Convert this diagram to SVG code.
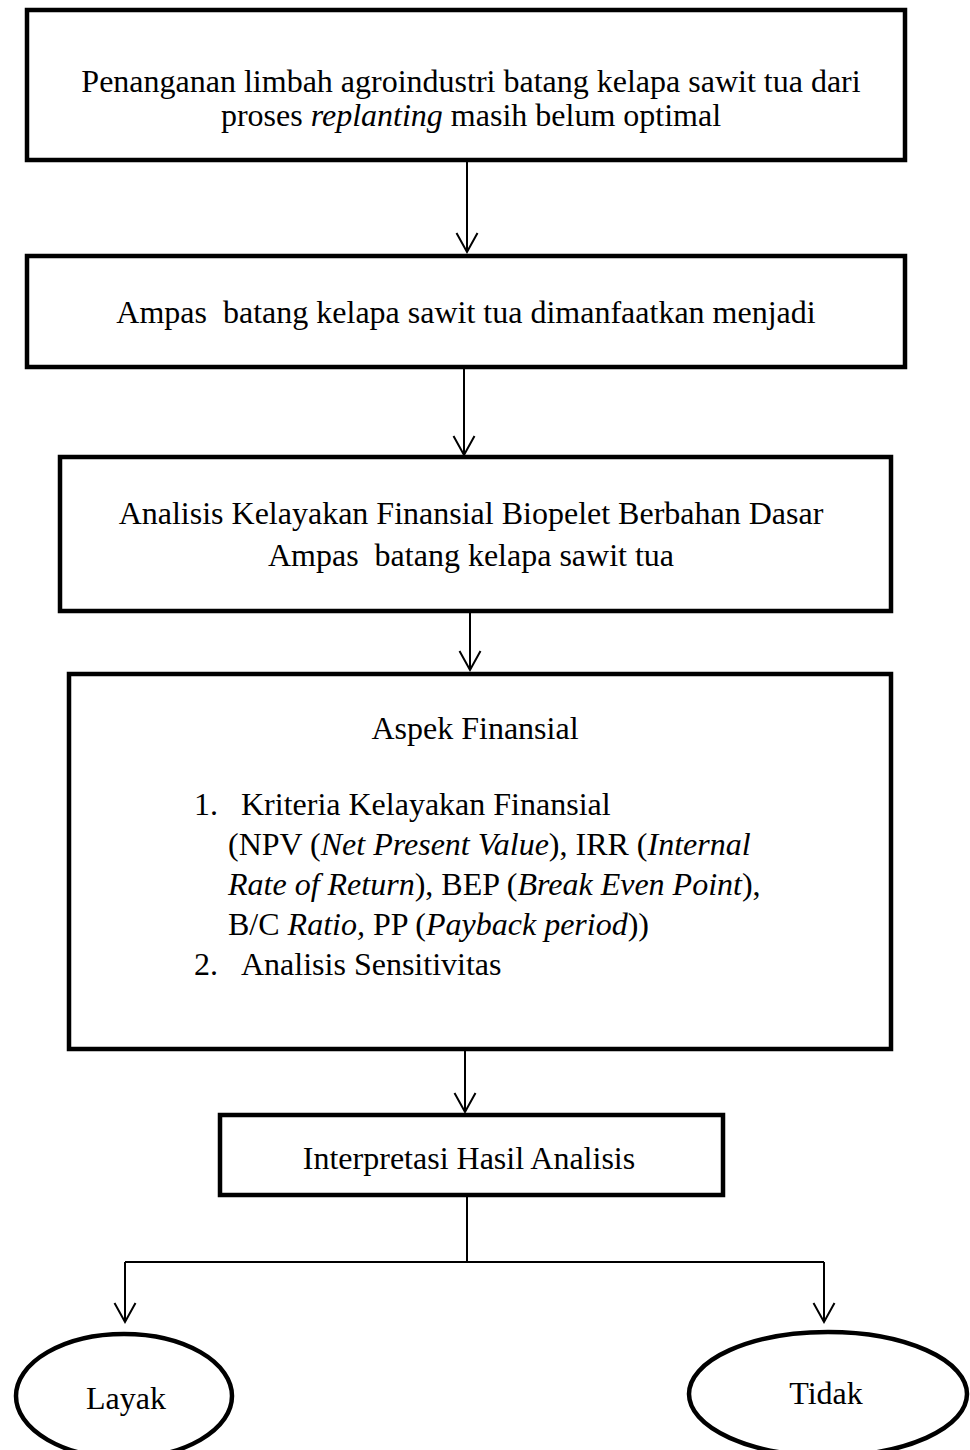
<svg xmlns="http://www.w3.org/2000/svg" width="970" height="1450" viewBox="0 0 970 1450">
<style>
.box{fill:#fff;stroke:#000;stroke-width:4.5}
.t{font-family:"Liberation Serif","Times New Roman",serif;font-size:32px;fill:#000;white-space:pre}
.c{text-anchor:middle}
.i{font-style:italic}
.ln{fill:none;stroke:#000;stroke-width:2}
</style>
<defs>
<marker id="ah" markerUnits="userSpaceOnUse" markerWidth="22" markerHeight="26" viewBox="0 -13 22 26" refX="19" refY="0" orient="auto" overflow="visible">
<path d="M0,-10.5 L19,0 L0,10.5" fill="none" stroke="#000" stroke-width="2"/>
</marker>
</defs>
<rect width="970" height="1450" fill="#fff"/>
<g id="connectors">
<path class="ln" d="M467,162 L467,252" marker-end="url(#ah)"/>
<path class="ln" d="M464,369 L464,455" marker-end="url(#ah)"/>
<path class="ln" d="M470,613 L470,670" marker-end="url(#ah)"/>
<path class="ln" d="M465,1051 L465,1112" marker-end="url(#ah)"/>
<path class="ln" d="M467,1197 L467,1262 M125,1262 L824,1262"/>
<path class="ln" d="M125,1262 L125,1322" marker-end="url(#ah)"/>
<path class="ln" d="M824,1262 L824,1322" marker-end="url(#ah)"/>
</g>
<g id="node1">
<rect class="box" x="27" y="10" width="878" height="150"/>
<text class="t c" x="471" y="92">Penanganan limbah agroindustri batang kelapa sawit tua dari</text>
<text class="t c" x="471" y="126">proses <tspan class="i">replanting</tspan> masih belum optimal</text>
</g>
<g id="node2">
<rect class="box" x="27" y="256" width="878" height="111"/>
<text class="t c" x="466" y="323">Ampas  batang kelapa sawit tua dimanfaatkan menjadi</text>
</g>
<g id="node3">
<rect class="box" x="60" y="457" width="831" height="154"/>
<text class="t c" x="471" y="524">Analisis Kelayakan Finansial Biopelet Berbahan Dasar</text>
<text class="t c" x="471" y="566">Ampas  batang kelapa sawit tua</text>
</g>
<g id="node4">
<rect class="box" x="69" y="674" width="822" height="375"/>
<text class="t c" x="475" y="739">Aspek Finansial</text>
<text class="t" x="194" y="815">1.</text>
<text class="t" x="241" y="815">Kriteria Kelayakan Finansial</text>
<text class="t" x="228" y="855">(NPV (<tspan class="i">Net Present Value</tspan>), IRR (<tspan class="i">Internal</tspan></text>
<text class="t" x="228" y="895"><tspan class="i">Rate of Return</tspan>), BEP (<tspan class="i">Break Even Point</tspan>),</text>
<text class="t" x="228" y="935">B/C <tspan class="i">Ratio,</tspan> PP (<tspan class="i">Payback period</tspan>))</text>
<text class="t" x="194" y="975">2.</text>
<text class="t" x="241" y="975">Analisis Sensitivitas</text>
</g>
<g id="node5">
<rect class="box" x="220" y="1115" width="503" height="80"/>
<text class="t c" x="469" y="1169">Interpretasi Hasil Analisis</text>
</g>
<g id="node6">
<ellipse class="box" cx="124" cy="1396" rx="108" ry="62"/>
<text class="t c" x="126" y="1409">Layak</text>
</g>
<g id="node7">
<ellipse class="box" cx="828" cy="1394" rx="139" ry="62"/>
<text class="t c" x="826" y="1404">Tidak</text>
</g>
</svg>
